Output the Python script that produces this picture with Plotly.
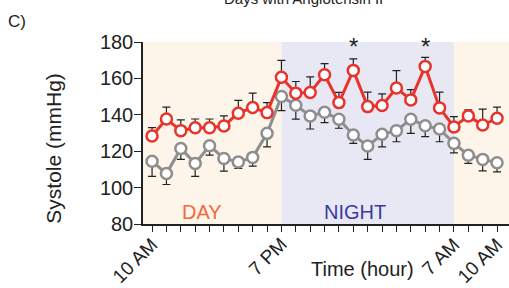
import plotly.graph_objects as go

hours = list(range(25))
tick_vals = [0, 9, 21, 24]
tick_text = ["10 AM", "7 PM", "7 AM", "10 AM"]

red_mean = [128.3, 137.7, 131.3, 132.9, 132.9, 133.9, 140.9, 144.0, 141.2, 160.6,
            151.9, 152.3, 162.0, 146.7, 164.4, 144.5, 145.1, 154.7, 148.2, 166.6,
            143.8, 133.3, 139.4, 134.4, 138.1]
red_err = [4.6, 6.5, 5.9, 4.8, 4.8, 5.5, 7.0, 7.9, 5.5, 9.3,
           6.4, 8.5, 6.1, 5.6, 6.3, 8.0, 6.4, 9.6, 5.6, 5.0,
           8.7, 5.7, 3.3, 8.7, 6.1]
gray_mean = [114.5, 107.7, 121.5, 113.3, 123.0, 116.0, 114.1, 116.6, 129.8, 150.1,
             145.3, 139.4, 141.4, 137.6, 128.9, 122.8, 129.3, 131.3, 137.6, 134.0,
             132.2, 124.3, 117.8, 115.5, 113.6]
gray_err = [8.3, 6.0, 6.0, 7.1, 5.2, 7.0, 3.6, 4.8, 7.4, 7.8,
            7.7, 7.2, 5.7, 5.0, 4.6, 7.3, 6.9, 6.1, 7.8, 6.0,
            7.0, 5.2, 4.5, 6.3, 5.0]
star_hours = [14, 19]

FONT = "Liberation Sans, Arial, sans-serif"
RED = "#e8322a"
GRAY = "#8e8e8e"
INK = "#222222"

fig = go.Figure()

# shading
fig.add_shape(type="rect", x0=-0.63, x1=9, y0=80, y1=180, xref="x", yref="y",
              fillcolor="#fdf5e9", line_width=0, layer="below")
fig.add_shape(type="rect", x0=9, x1=21, y0=80, y1=180, xref="x", yref="y",
              fillcolor="#e8e8f4", line_width=0, layer="below")
fig.add_shape(type="rect", x0=21, x1=26, y0=80, y1=180, xref="x", yref="y",
              fillcolor="#fdf5e9", line_width=0, layer="below")

fig.add_trace(go.Scatter(
    x=hours, y=gray_mean, mode="lines+markers",
    line=dict(color=GRAY, width=3),
    marker=dict(symbol="circle", size=11, color="white", line=dict(color=GRAY, width=2.5)),
    error_y=dict(type="data", symmetric=False, array=[0] * 25, arrayminus=gray_err,
                 color=INK, thickness=1.2, width=4),
    showlegend=False))
fig.add_trace(go.Scatter(
    x=hours, y=red_mean, mode="lines+markers",
    line=dict(color=RED, width=3),
    marker=dict(symbol="circle", size=11, color="white", line=dict(color=RED, width=2.5)),
    error_y=dict(type="data", symmetric=False, array=red_err, arrayminus=[0] * 25,
                 color=INK, thickness=1.2, width=4),
    showlegend=False))

L, T, W, H = 143, 41.5, 509, 288
PW, PH = W - L, 224 - T

annotations = []
for h in star_hours:
    annotations.append(dict(x=h, y=177.5, xref="x", yref="y", text="*", showarrow=False,
                            xanchor="center", yanchor="middle",
                            font=dict(family=FONT, size=24, color=INK)))
# rotated x tick labels
for v, t in zip(tick_vals, tick_text):
    annotations.append(dict(x=v, y=1 - (232.5 - T) / PH, xref="x", yref="paper", text=t,
                            textangle=-45, showarrow=False, xanchor="right", yanchor="top",
                            xshift=11, borderpad=0,
                            font=dict(family=FONT, size=19, color=INK)))
annotations += [
    dict(x=-0.6, y=180.5, xref="x", yref="y", text="P=0.02", showarrow=False,
         xanchor="left", yanchor="top", font=dict(family=FONT, size=20, color=INK)),
    dict(x=3.5, y=86.5, xref="x", yref="y", text="DAY", showarrow=False,
         xanchor="center", yanchor="middle", font=dict(family=FONT, size=20, color="#f26a3c")),
    dict(x=14.15, y=86.5, xref="x", yref="y", text="NIGHT", showarrow=False,
         xanchor="center", yanchor="middle", font=dict(family=FONT, size=20, color="#3a3a9e")),
]
pixel_notes = [
    dict(x=362, y=269.5, text="Time (hour)", size=20, angle=0),
    dict(x=17, y=21, text="C)", size=17, angle=0),
    dict(x=303, y=-2, text="Days with Angiotensin II", size=15, angle=0),
    dict(x=54, y=148.5, text="Systole (mmHg)", size=21, angle=-90),
]
for p in pixel_notes:
    annotations.append(dict(x=(p["x"] - L) / PW, y=1 - (p["y"] - T) / PH,
                            xref="paper", yref="paper", text=p["text"], textangle=p["angle"],
                            showarrow=False, xanchor="center", yanchor="middle",
                            font=dict(family=FONT, size=p["size"], color=INK)))

fig.update_layout(
    width=W, height=H,
    margin=dict(l=L, r=0, t=T, b=H - 224),
    plot_bgcolor="white", paper_bgcolor="white",
    font=dict(family=FONT, size=19, color=INK),
    annotations=annotations,
    xaxis=dict(range=[-0.63, 24.83], showgrid=False, zeroline=False,
               showline=True, linecolor=INK, linewidth=1.5,
               ticks="outside", ticklen=6, tickwidth=1.2, tickcolor=INK,
               tickvals=hours, showticklabels=False),
    yaxis=dict(range=[80, 180], showgrid=False, zeroline=False,
               showline=True, linecolor=INK, linewidth=1.5,
               ticks="outside", ticklen=7, tickwidth=1.2, tickcolor=INK,
               ticklabelstandoff=-3,
               tickvals=[80, 100, 120, 140, 160, 180],
               tickfont=dict(family=FONT, size=20, color=INK)),
)

fig.write_html("out.html", config={"displayModeBar": False},
               post_script="document.body.style.margin='0px';document.body.style.overflow='hidden';")
